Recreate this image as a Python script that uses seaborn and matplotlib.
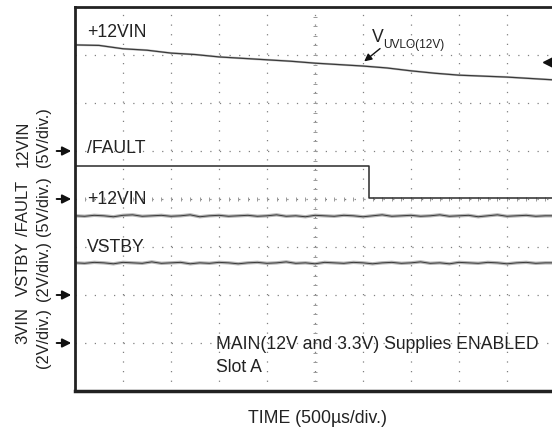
import numpy as np
import matplotlib
matplotlib.use("Agg")
import matplotlib.pyplot as plt
import seaborn as sns

# Scope capture, values in screen divisions (10 x 8 grid)
t_top = [0, 0.5, 1.0, 1.5, 2.0, 2.5, 3.0, 3.5, 4.0, 4.5, 5.0,
         5.5, 6.0, 6.5, 7.0, 7.5, 8.0, 8.5, 9.0, 9.5, 10.0]
vin12_top = [7.21, 7.20, 7.13, 7.10, 7.04, 7.01, 6.96, 6.93, 6.90, 6.87, 6.83,
             6.80, 6.77, 6.73, 6.67, 6.62, 6.58, 6.56, 6.54, 6.51, 6.48]

t_fault = [0, 6.12, 10.0]
fault = [4.69, 4.02, 4.02]

t_noise = [0.0, 0.2, 0.4, 0.6, 0.8, 1.0, 1.2, 1.4, 1.6, 1.8,
           2.0, 2.2, 2.4, 2.6, 2.8, 3.0, 3.2, 3.4, 3.6, 3.8,
           4.0, 4.2, 4.4, 4.6, 4.8, 5.0, 5.2, 5.4, 5.6, 5.8,
           6.0, 6.2, 6.4, 6.6, 6.8, 7.0, 7.2, 7.4, 7.6, 7.8,
           8.0, 8.2, 8.4, 8.6, 8.8, 9.0, 9.2, 9.4, 9.6, 9.8, 10.0]
vin12_low = [3.65, 3.64, 3.66, 3.65, 3.63, 3.66, 3.67, 3.64, 3.65, 3.66,
             3.64, 3.65, 3.67, 3.63, 3.65, 3.66, 3.64, 3.65, 3.66, 3.64,
             3.65, 3.67, 3.64, 3.65, 3.63, 3.66, 3.65, 3.64, 3.66, 3.65,
             3.63, 3.65, 3.67, 3.64, 3.65, 3.66, 3.64, 3.65, 3.67, 3.64,
             3.65, 3.66, 3.63, 3.65, 3.67, 3.64, 3.65, 3.66, 3.64, 3.65, 3.65]
vstby = [2.67, 2.66, 2.68, 2.67, 2.65, 2.68, 2.67, 2.66, 2.69, 2.66,
         2.67, 2.68, 2.65, 2.67, 2.66, 2.68, 2.67, 2.65, 2.67, 2.68,
         2.66, 2.67, 2.69, 2.66, 2.67, 2.65, 2.68, 2.67, 2.66, 2.68,
         2.67, 2.65, 2.67, 2.68, 2.66, 2.67, 2.69, 2.66, 2.67, 2.65,
         2.68, 2.67, 2.66, 2.68, 2.67, 2.65, 2.67, 2.68, 2.66, 2.67, 2.67]

# ground reference arrows (division) and their channel labels
ref_levels = [5, 4, 2, 1]
ch_names = ["12VIN", "/FAULT", "VSTBY", "3VIN"]
ch_scales = ["(5V/div.)", "(5V/div.)", "(2V/div.)", "(2V/div.)"]
ch_name_y = [144, 208, 269, 325]
ch_scale_y = [137, 206, 271, 338]

sns.set_style("white")
plt.rcParams["font.family"] = ["Liberation Sans", "DejaVu Sans"]

fig = plt.figure(figsize=(5.52, 4.36), dpi=100)
ax = fig.add_axes([75 / 552, 45 / 436, 480 / 552, 384 / 436])
ax.set_xlim(0, 10)
ax.set_ylim(0, 8)

# dotted graticule
ax.set_xticks(range(11))
ax.set_yticks(range(9))
ax.grid(True, color="#808080", lw=0.9, linestyle=(0, (1, 6.7)))
ax.tick_params(length=0, labelbottom=False, labelleft=False)
minor = np.arange(0.2, 10, 0.2)
ax.plot(np.full(len(minor[minor < 8]), 5), minor[minor < 8], ls="none",
        marker="_", ms=3, color="#999999", mew=0.7)
ax.plot(minor, np.full(len(minor), 4), ls="none", marker="|", ms=3,
        color="#999999", mew=0.7)
for s in ["left", "top", "bottom"]:
    ax.spines[s].set_color("#222222")
    ax.spines[s].set_linewidth(2)
ax.spines["bottom"].set_linewidth(2.5)
ax.spines["right"].set_visible(False)

# traces
sns.lineplot(x=t_top, y=vin12_top, ax=ax, color="#c4c4c4", lw=1.6, estimator=None)
sns.lineplot(x=t_top, y=vin12_top, ax=ax, color="#3a3a3a", lw=0.9, estimator=None)
sns.lineplot(x=t_fault, y=fault, ax=ax, color="#2a2a2a", lw=1.1,
             drawstyle="steps-post", estimator=None)
for vals in [vin12_low, vstby]:
    sns.lineplot(x=t_noise, y=vals, ax=ax, color="#b4b4b4", lw=2.4, estimator=None)
    sns.lineplot(x=t_noise, y=vals, ax=ax, color="#3a3a3a", lw=0.7, estimator=None)

# trace labels
fs = 12.7
ax.text(0.25, 7.46, "+12VIN", fontsize=fs, va="center", color="#222222")
ax.text(0.25, 5.06, "/FAULT", fontsize=fs, va="center", color="#222222")
ax.text(0.25, 4.0, "+12VIN", fontsize=fs, va="center", color="#222222")
ax.text(0.25, 2.98, "VSTBY", fontsize=fs, va="center", color="#222222")
ax.text(2.94, 0.96, "MAIN(12V and 3.3V) Supplies ENABLED", fontsize=fs,
        va="center", color="#222222")
ax.text(2.94, 0.5, "Slot A", fontsize=fs, va="center", color="#222222")

# UVLO annotation
ax.text(6.19, 7.37, "V", fontsize=fs, va="center", color="#222222")
ax.text(6.42, 7.21, "UVLO(12V)", fontsize=8.6, va="center", color="#222222")
ax.annotate("", xy=(5.98, 6.83), xytext=(6.40, 7.17),
            arrowprops=dict(arrowstyle="-|>", color="#111111", lw=1.0,
                            mutation_scale=11))
ax.plot([9.86], [6.85], marker="<", ms=7, color="#111111", clip_on=False)

# ground reference arrows on the left edge
for lv in ref_levels:
    ax.annotate("", xy=(-0.02, lv), xytext=(-0.44, lv),
                arrowprops=dict(arrowstyle="-|>", color="#111111", lw=1.4,
                                mutation_scale=13),
                annotation_clip=False)

for name, ny, sc, sy in zip(ch_names, ch_name_y, ch_scales, ch_scale_y):
    fig.text(23 / 552, 1 - ny / 436, name, rotation=90, fontsize=12,
             ha="center", va="center", color="#222222")
    fig.text(44 / 552, 1 - sy / 436, sc, rotation=90, fontsize=11.8,
             ha="center", va="center", color="#222222")

fig.text(317 / 552, 1 - 418 / 436, "TIME (500µs/div.)", fontsize=fs,
         ha="center", va="center", color="#222222")

fig.savefig("out.png", dpi=100)
